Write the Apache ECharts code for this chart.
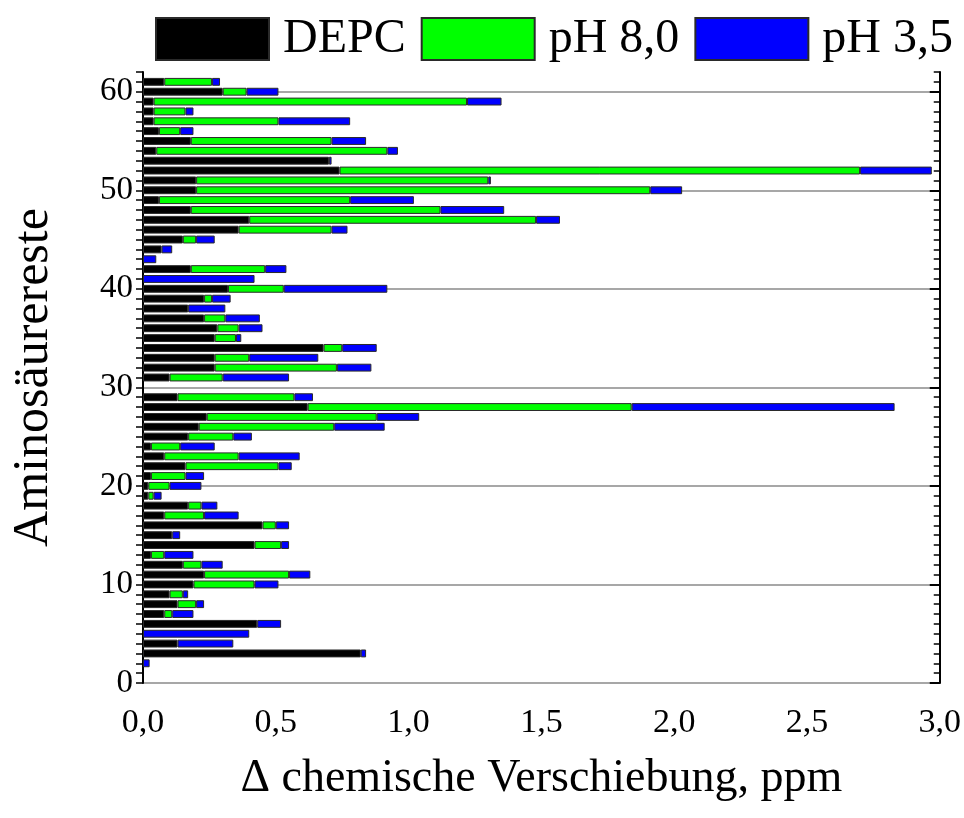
<!DOCTYPE html>
<html>
<head>
<meta charset="utf-8">
<title>Aminosäurereste</title>
<script src="https://cdn.jsdelivr.net/npm/echarts@6/dist/echarts.min.js"></script>
<style>
  html, body { margin: 0; padding: 0; background: #fff; }
  #chart { width: 964px; height: 818px; }
</style>
</head>
<body>
<div id="chart"></div>
<script>
// Reste 1..61, Anteile je Bedingung (ppm)
var residues = [];
for (var r = 0; r <= 62; r++) residues.push(String(r));

var depc = [0, 0, 0.82, 0.13, 0, 0.43, 0.08, 0.13, 0.10, 0.19,
  0.23, 0.15, 0.03, 0.42, 0.11, 0.45, 0.08, 0.17, 0.02, 0.02,
  0.03, 0.16, 0.08, 0.03, 0.17, 0.21, 0.24, 0.62, 0.13, 0,
  0.10, 0.27, 0.27, 0.68, 0.27, 0.28, 0.23, 0.17, 0.23, 0.32,
  0, 0.18, 0, 0.07, 0.15, 0.36, 0.40, 0.18, 0.06, 0.20,
  0.20, 0.74, 0.70, 0.05, 0.18, 0.06, 0.04, 0.04, 0.04, 0.30,
  0.08];
var ph80 = [0, 0, 0, 0, 0, 0, 0.03, 0.07, 0.05, 0.23,
  0.32, 0.07, 0.05, 0.10, 0, 0.05, 0.15, 0.05, 0.02, 0.08,
  0.13, 0.35, 0.28, 0.11, 0.17, 0.51, 0.64, 1.22, 0.44, 0,
  0.20, 0.46, 0.13, 0.07, 0.08, 0.08, 0.08, 0, 0.03, 0.21,
  0, 0.28, 0, 0, 0.05, 0.35, 1.08, 0.94, 0.72, 1.71,
  1.10, 1.96, 0, 0.87, 0.53, 0.08, 0.47, 0.12, 1.18, 0.09,
  0.18];
var ph35 = [0, 0.025, 0.02, 0.21, 0.40, 0.09, 0.08, 0.03, 0.02, 0.09,
  0.08, 0.08, 0.11, 0.03, 0.03, 0.05, 0.13, 0.06, 0.03, 0.12,
  0.07, 0.05, 0.23, 0.13, 0.07, 0.19, 0.16, 0.99, 0.07, 0,
  0.25, 0.13, 0.26, 0.13, 0.02, 0.09, 0.13, 0.14, 0.07, 0.39,
  0.42, 0.08, 0.05, 0.04, 0.07, 0.06, 0.09, 0.24, 0.24, 0.12,
  0.01, 0.27, 0.01, 0.04, 0.13, 0.05, 0.27, 0.03, 0.13, 0.12,
  0.03];

var xTicks = [0, 0.5, 1.0, 1.5, 2.0, 2.5, 3.0];

var font = "'Liberation Serif', 'Times New Roman', serif";

// Index 0 und 62 leer, Nullwerte nicht zeichnen
function toSeries(arr) {
  var out = ['-'];
  arr.forEach(function (v) { out.push(v > 0 ? v : '-'); });
  out.push('-');
  return out;
}

function makeBar(name, arr, color) {
  return {
    name: name,
    type: 'bar',
    stack: 'shift',
    xAxisIndex: 0,
    yAxisIndex: 0,
    barWidth: '80%',
    itemStyle: { color: color, borderColor: '#2a2a2a', borderWidth: 1 },
    data: toSeries(arr)
  };
}

var myChart = echarts.init(document.getElementById('chart'));

var option = {
  backgroundColor: '#fff',
  animation: false,
  legend: {
    top: 15,
    left: 155,
    padding: 0,
    icon: 'rect',
    itemWidth: 113,
    itemHeight: 42,
    itemGap: 15,
    textStyle: { fontFamily: font, fontSize: 48, color: '#000', padding: [0, 0, 0, 9] },
    data: ['DEPC', 'pH 8,0', 'pH 3,5']
  },
  grid: { left: 143, right: 24, top: 72, bottom: 135 },
  xAxis: [{
    type: 'value',
    position: 'bottom',
    min: xTicks[0],
    max: xTicks[xTicks.length - 1],
    interval: 0.5,
    name: 'Δ chemische Verschiebung, ppm',
    nameLocation: 'middle',
    nameGap: 73,
    nameTextStyle: { fontFamily: font, fontSize: 46, color: '#000' },
    axisLine: { onZero: false, lineStyle: { color: '#000', width: 2 } },
    axisTick: { length: 12, lineStyle: { color: '#000', width: 2 } },
    axisLabel: {
      fontFamily: font, fontSize: 34, color: '#000', margin: 23,
      formatter: function (v) { return v.toFixed(1).replace('.', ','); }
    },
    splitLine: { show: false }
  }, {
    type: 'value',
    position: 'top',
    min: 0,
    max: 3,
    interval: 0.5,
    axisLine: { onZero: false, lineStyle: { color: '#000', width: 2 } },
    axisTick: { inside: true, length: 12, lineStyle: { color: '#000', width: 2 } },
    axisLabel: { show: false },
    splitLine: { show: false }
  }],
  yAxis: [{
    type: 'category',
    data: residues,
    boundaryGap: false,
    position: 'left',
    name: 'Aminosäurereste',
    nameLocation: 'middle',
    nameGap: 84,
    nameTextStyle: { fontFamily: font, fontSize: 50, color: '#000' },
    axisLine: { onZero: false, lineStyle: { color: '#000', width: 2 } },
    axisTick: { interval: 0, length: 7, lineStyle: { color: '#000', width: 1.5 } },
    axisLabel: { interval: 9, fontFamily: font, fontSize: 33, color: '#000', margin: 10 },
    splitLine: { show: true, interval: 9, lineStyle: { color: '#8a8a8a', width: 1.5 } }
  }, {
    type: 'category',
    data: residues,
    boundaryGap: false,
    position: 'right',
    axisLine: { onZero: false, lineStyle: { color: '#000', width: 2 } },
    axisTick: { interval: 0, inside: true, length: 6, lineStyle: { color: '#000', width: 1.5 } },
    axisLabel: { show: false },
    splitLine: { show: false }
  }, {
    // lange Ticks rechts bei 10er-Schritten
    type: 'category',
    data: residues,
    boundaryGap: false,
    position: 'right',
    axisLine: { show: false, onZero: false },
    axisTick: { interval: 9, inside: true, length: 10, lineStyle: { color: '#000', width: 2 } },
    axisLabel: { show: false },
    splitLine: { show: false }
  }],
  series: [
    makeBar('DEPC', depc, '#000000'),
    makeBar('pH 8,0', ph80, '#00ff00'),
    makeBar('pH 3,5', ph35, '#0000ff')
  ]
};

myChart.setOption(option);
window.addEventListener('resize', function () { myChart.resize(); });
</script>
</body>
</html>
